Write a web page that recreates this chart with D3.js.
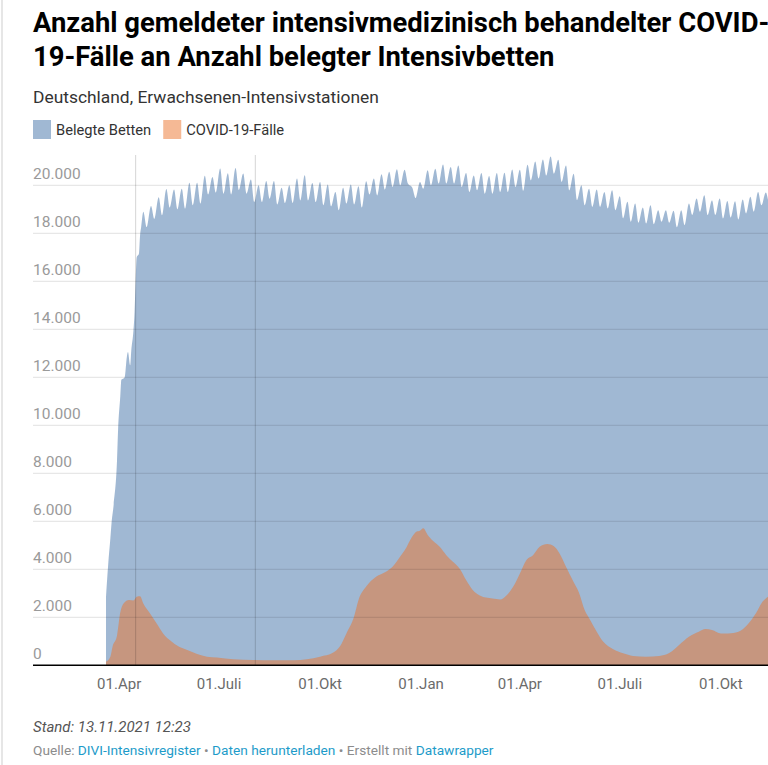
<!DOCTYPE html>
<html>
<head>
<meta charset="utf-8">
<script src="https://cdn.jsdelivr.net/npm/d3@7"></script>
<style>
  html, body { margin: 0; padding: 0; background: #fff; }
  svg { display: block; font-family: Roboto, sans-serif; }
</style>
</head>
<body>
<svg id="chart"></svg>
<script>
// Beds: steep ramp at the start, then weekly highs (Thursdays) and lows (Sundays)
const rampDates = ["2020-03-20","2020-03-22","2020-03-24","2020-03-25","2020-03-27","2020-03-30","2020-03-31","2020-04-02","2020-04-03","2020-04-05","2020-04-06","2020-04-08","2020-04-09","2020-04-11","2020-04-12","2020-04-14","2020-04-15","2020-04-16","2020-04-17","2020-04-19","2020-04-20","2020-04-21"];
const rampBeds = [2850,4200,5300,5900,6700,8500,9800,11200,11900,11950,12000,12850,13050,12500,13100,13950,14700,16050,17000,17150,17900,18250];

const firstPeak = "2020-04-23";   // Thursday
const peakBeds = [18900,19140,19500,19850,19820,19860,20110,20110,20400,20350,20700,20500,20720,20490,20240,20000,20180,20180,19900,20000,20280,20420,20100,20140,20030,19720,19900,20030,19960,20170,20280,20460,20560,20670,20650,19900,20140,20630,
  20690,20870,20760,20830,20510,20410,20510,20390,20510,20520,20660,20650,20860,20990,21080,21200,21060,20830,20480,20000,19860,19820,19720,19790,19540,19310,19240,19070,19170,18960,18960,18940,18960,19240,19450,19590,19380,19450,19350,19340,19410,19520,19720,19700];

const firstLow = "2020-04-26";    // Sunday
const lowBeds = [18260,18600,18750,19070,19000,19030,19170,19240,19620,19700,19650,19620,19800,19650,19300,19300,19440,19200,19260,19260,19370,19370,19300,19170,19120,18960,19240,19200,19070,19620,19580,19820,19930,20000,20070,19470,19860,
  20000,20070,20070,20070,19930,19720,19790,19650,19650,19720,19720,19930,19770,20210,20280,20410,20480,20140,19790,19380,19170,19100,19100,19030,18960,18620,18480,18440,18410,18380,18480,18440,18250,18340,18760,18900,18760,18760,18620,18660,18580,18830,18900,19170];

const lastDate = "2021-11-13";
const lastBeds = 19400;

// COVID-19 cases in ICU
const caseDates = ["2020-03-20","2020-03-24","2020-03-26","2020-03-30","2020-04-02","2020-04-05","2020-04-10","2020-04-14","2020-04-17","2020-04-20","2020-04-23","2020-04-29","2020-05-05","2020-05-11","2020-05-17","2020-05-26","2020-06-02","2020-06-11","2020-06-20","2020-06-29","2020-07-14","2020-08-01","2020-08-19","2020-09-07","2020-09-19","2020-10-01","2020-10-13","2020-10-19","2020-10-25","2020-11-01","2020-11-05","2020-11-12","2020-11-21","2020-11-30","2020-12-06","2020-12-13","2020-12-19","2020-12-23","2020-12-28","2020-12-31",
  "2021-01-03","2021-01-07","2021-01-12","2021-01-18","2021-01-24","2021-01-30","2021-02-05","2021-02-11","2021-02-17","2021-02-23","2021-03-01","2021-03-07","2021-03-14","2021-03-20","2021-03-26","2021-04-01","2021-04-07","2021-04-13","2021-04-19","2021-04-26","2021-05-02","2021-05-07","2021-05-13","2021-05-19","2021-05-25","2021-05-30","2021-06-04","2021-06-10","2021-06-16","2021-06-25","2021-07-04","2021-07-13","2021-07-25","2021-08-06","2021-08-15","2021-08-24","2021-09-02","2021-09-11","2021-09-17","2021-09-23","2021-10-01","2021-10-08","2021-10-17","2021-10-25","2021-11-02","2021-11-08","2021-11-13"];
const caseValues = [150,360,780,1230,2200,2580,2720,2700,2860,2880,2580,2170,1750,1330,1050,760,640,470,360,320,250,220,210,210,250,360,530,780,1330,2030,2720,3280,3690,3900,4110,4530,4940,5290,5570,5610,
  5710,5430,5180,4940,4590,4310,4030,3550,3140,2920,2820,2780,2740,2920,3280,3830,4390,4590,4940,5050,4960,4670,4110,3550,3000,2300,1890,1400,980,670,500,390,360,390,510,850,1190,1400,1510,1470,1330,1330,1400,1680,2170,2650,2860];

const yTicks = [0,2000,4000,6000,8000,10000,12000,14000,16000,18000,20000];
const xTickDates = ["2020-04-01","2020-07-01","2020-10-01","2021-01-01","2021-04-01","2021-07-01","2021-10-01"];
const xTickLabels = ["01.Apr","01.Juli","01.Okt","01.Jan","01.Apr","01.Juli","01.Okt"];
const markerDates = ["2020-04-16","2020-08-03"];

const seriesNames = ["Belegte Betten","COVID-19-Fälle"];
const seriesColors = ["#4171a7","#eb732b"];

const parse = d3.utcParse("%Y-%m-%d");
const de = d3.formatLocale({decimal: ",", thousands: ".", grouping: [3], currency: ["", " €"]});
const fmt = de.format(",");

// assemble beds series
let beds = rampDates.map((d, i) => ({date: parse(d), value: rampBeds[i]}));
peakBeds.forEach((v, i) => beds.push({date: d3.utcDay.offset(parse(firstPeak), 7 * i), value: v}));
lowBeds.forEach((v, i) => beds.push({date: d3.utcDay.offset(parse(firstLow), 7 * i), value: v}));
beds.push({date: parse(lastDate), value: lastBeds});
beds.sort((a, b) => a.date - b.date);

const cases = caseDates.map((d, i) => ({date: parse(d), value: caseValues[i]}));

const W = 768, H = 765;
const svg = d3.select("#chart").attr("width", W).attr("height", H);

const plotLeft = 33, plotRight = 768, plotTop = 155, plotBottom = 665.3;

const x = d3.scaleUtc()
  .domain([parse("2020-03-20"), parse(lastDate)])
  .range([106, 768]);
const y = d3.scaleLinear().domain([0, 20000]).range([plotBottom, 185.3]);

// left border
svg.append("rect").attr("x", 1).attr("y", 0).attr("width", 2).attr("height", H).attr("fill", "#e6e6e6");

// title
const title = svg.append("text").attr("x", plotLeft).attr("font-size", 27.4).attr("font-weight", 700).attr("fill", "#000");
title.append("tspan").attr("x", plotLeft).attr("y", 32).text("Anzahl gemeldeter intensivmedizinisch behandelter COVID-");
title.append("tspan").attr("x", plotLeft).attr("y", 66).text("19-Fälle an Anzahl belegter Intensivbetten");

svg.append("text").attr("x", plotLeft).attr("y", 103).attr("font-size", 17.4).attr("fill", "#333")
  .text("Deutschland, Erwachsenen-Intensivstationen");

// legend
let lx = plotLeft;
seriesNames.forEach((name, i) => {
  const g = svg.append("g").attr("transform", `translate(${lx},120)`);
  g.append("rect").attr("width", 18).attr("height", 19).attr("fill", seriesColors[i]).attr("fill-opacity", 0.5);
  const t = g.append("text").attr("x", 23).attr("y", 15).attr("font-size", 14.7).attr("fill", "#333").text(name);
  lx += 23 + t.node().getComputedTextLength() + 12;
});

// areas
const area = d3.area()
  .x(d => x(d.date))
  .y0(y(0))
  .y1(d => y(d.value))
  .curve(d3.curveMonotoneX);

svg.append("path").datum(beds).attr("d", area)
  .attr("fill", seriesColors[0]).attr("fill-opacity", 0.5);
svg.append("path").datum(cases).attr("d", area)
  .attr("fill", seriesColors[1]).attr("fill-opacity", 0.5);

// horizontal grid
const yAxis = svg.append("g");
yTicks.forEach(v => {
  if (v > 0) {
    yAxis.append("line").attr("x1", plotLeft).attr("x2", plotRight)
      .attr("y1", y(v)).attr("y2", y(v))
      .attr("stroke", "#000").attr("stroke-opacity", 0.12).attr("stroke-width", 1);
  }
  yAxis.append("text").attr("x", plotLeft).attr("y", y(v) - 6)
    .attr("font-size", 15.5).attr("fill", "#9a9a9a").text(fmt(v));
});

// marker lines
markerDates.forEach(d => {
  svg.append("line").attr("x1", x(parse(d))).attr("x2", x(parse(d)))
    .attr("y1", plotTop).attr("y2", plotBottom)
    .attr("stroke", "#000").attr("stroke-opacity", 0.17).attr("stroke-width", 1);
});

// baseline
svg.append("line").attr("x1", plotLeft).attr("x2", plotRight).attr("y1", plotBottom).attr("y2", plotBottom)
  .attr("stroke", "#000").attr("stroke-width", 1.5);

// x ticks
xTickDates.forEach((d, i) => {
  svg.append("text").attr("x", x(parse(d))).attr("y", 689)
    .attr("text-anchor", "middle").attr("font-size", 15).attr("fill", "#6b6b6b")
    .text(xTickLabels[i]);
});

// footer
svg.append("text").attr("x", plotLeft).attr("y", 732).attr("font-size", 15)
  .attr("font-style", "italic").attr("fill", "#555").text("Stand: 13.11.2021 12:23");

const src = svg.append("text").attr("x", plotLeft).attr("y", 755).attr("font-size", 13.7).attr("fill", "#8c8c8c");
src.append("tspan").text("Quelle: ");
src.append("tspan").attr("fill", "#1d9bc9").text("DIVI-Intensivregister");
src.append("tspan").text(" • ");
src.append("tspan").attr("fill", "#1d9bc9").text("Daten herunterladen");
src.append("tspan").text(" • Erstellt mit ");
src.append("tspan").attr("fill", "#1d9bc9").text("Datawrapper");
</script>
</body>
</html>
